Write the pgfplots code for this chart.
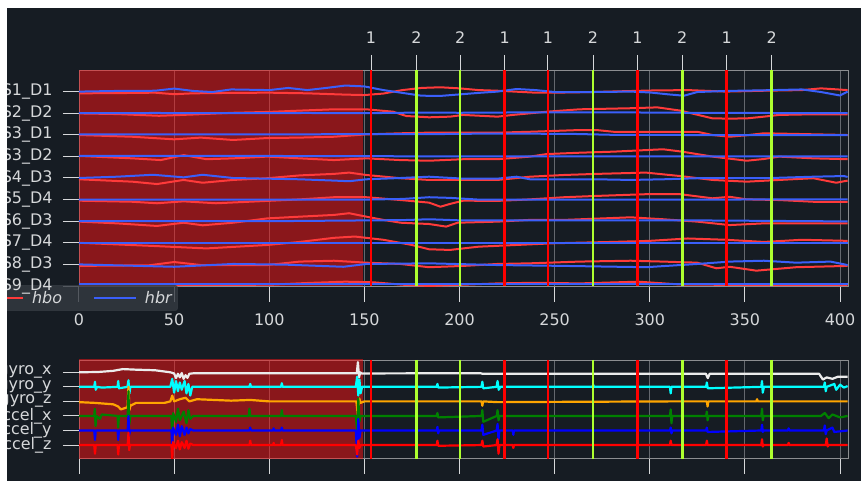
\documentclass[border=0pt]{standalone}
\usepackage{pgfplots}
\pgfplotsset{compat=1.18}
\usepackage{fontspec}
\setmainfont{DejaVu Sans}

\definecolor{bgdark}{RGB}{22,28,35}
\definecolor{fgtext}{RGB}{214,216,218}
\definecolor{framegrey}{RGB}{140,142,145}
\definecolor{gridgrey}{RGB}{100,104,110}
\definecolor{hbo}{RGB}{255,58,58}
\definecolor{hbr}{RGB}{58,95,250}
\definecolor{badspan}{RGB}{255,20,20}
\definecolor{evone}{RGB}{255,0,0}
\definecolor{evtwo}{RGB}{173,255,47}
\definecolor{legfill}{RGB}{52,58,66}
\definecolor{gyx}{RGB}{236,236,236}
\definecolor{gyy}{RGB}{0,255,255}
\definecolor{gyz}{RGB}{255,165,0}
\definecolor{acx}{RGB}{0,128,0}
\definecolor{acy}{RGB}{0,0,255}
\definecolor{acz}{RGB}{255,0,0}

\pgfplotsset{
  browser/.style={
    scale only axis, width=769bp,
    xmin=0, xmax=404.2,
    axis line style={framegrey, line width=0.8bp},
    tick style={fgtext, line width=1bp},
    major tick length=16bp,
    tick align=outside,
    ticklabel style={text=fgtext, font=\fontsize{16}{16}\selectfont},
    xticklabel style={yshift=-8.5bp},
    yticklabel style={xshift=-8bp},
    /pgf/number format/assume math mode=true,
    y dir=reverse,
    xtick={0,50,...,400},
    xtick pos=bottom, ytick pos=left,
    xmajorgrids, major grid style={gridgrey, line width=0.8bp},
  },
  trace/.style={line width=2bp, line join=round, forget plot},
  sensor/.style={line width=2.2bp, line join=round, forget plot},
}

\begin{document}
\begin{tikzpicture}
\fill[white] (0,0) rectangle (861bp,481bp);
\begin{scope}
\clip (7bp,0) rectangle (861bp,473bp);
\fill[bgdark] (7bp,0) rectangle (861bp,473bp);

% ---------------- fNIRS channels ----------------
\begin{axis}[browser, at={(79bp,195bp)}, anchor=south west, height=216bp,
  ymin=0, ymax=10, ytick={1,...,10}, yticklabels={},
  legend columns=2,
  legend image code/.code={\draw[#1] (0bp,0bp) -- (35bp,0bp); \path (0bp,0bp) -- (42bp,0bp);},
  legend style={at={(axis description cs:0.1287,0.0046)}, anchor=north east,
    fill=legfill, fill opacity=0.8, text opacity=1, draw=legfill,
    rounded corners=3bp, text=fgtext,
    font=\fontsize{16}{16}\selectfont\itshape,
    inner xsep=4bp, inner ysep=4bp,
    /tikz/every even column/.append style={column sep=29bp}},
]
% bad segment
\addplot[draw=none, fill=badspan, fill opacity=0.5, forget plot]
  coordinates {(0,0) (149.3,0) (149.3,10) (0,10)} -- cycle;

\addlegendimage{hbo, line width=2bp}
\addlegendentry{\hspace{6bp}hbo}
\addlegendimage{hbr, line width=2bp}
\addlegendentry{\hspace{6bp}hbr}

% S1_D1
\addplot[trace, hbo] coordinates {(0,1.08) (20,1.07) (40,1.05) (50,1.12) (60,1.08) (80,1.06) (100,1.05) (120,1.08) (140,1.14) (150,1.16) (160,1.09) (170,0.93) (180,0.83) (190,0.80) (200,0.85) (210,0.93) (220,0.96) (240,1.05) (250,1.05) (270,1.02) (300,0.95) (320,0.93) (340,1.00) (360,0.96) (380,0.93) (390,0.85) (404,0.93)};
\addplot[trace, hbr] coordinates {(0,1.00) (20,0.97) (40,0.96) (50,0.86) (60,0.97) (70,1.02) (80,0.90) (100,0.93) (110,0.83) (120,0.93) (130,0.83) (140,0.72) (150,0.76) (160,0.93) (170,1.06) (180,1.19) (190,1.20) (200,1.13) (210,1.06) (220,1.00) (230,0.88) (240,0.93) (250,1.02) (270,1.02) (290,1.00) (300,1.04) (310,1.13) (318,1.19) (325,1.02) (340,0.97) (360,0.94) (380,0.90) (390,1.02) (400,1.18) (404,1.00)};
% S2_D2
\addplot[trace, hbo] coordinates {(0,2.01) (20,2.04) (42,2.12) (60,2.06) (81,1.98) (100,1.94) (116,1.88) (134,1.82) (151,1.82) (165,1.93) (172,2.13) (184,2.19) (195,2.16) (202,2.08) (220,2.16) (228,2.08) (246,1.93) (263,1.82) (290,1.77) (304,1.73) (316,1.88) (333,2.24) (342,2.25) (351,2.24) (360,2.16) (368,2.08) (386,2.05) (404,2.05)};
\addplot[trace, hbr] coordinates {(0,2.00) (40,1.99) (80,2.00) (120,1.99) (150,2.00) (180,1.97) (200,1.98) (240,1.96) (280,1.96) (320,1.98) (360,1.99) (404,2.00)};
% S3_D1
\addplot[trace, hbo] coordinates {(0,3.01) (28,3.09) (50,3.21) (64,3.13) (81,3.24) (99,3.15) (116,3.13) (134,3.09) (151,2.98) (169,2.93) (184,2.90) (220,2.90) (237,2.86) (263,2.78) (272,2.78) (281,2.86) (307,2.86) (325,2.86) (333,3.01) (342,3.09) (351,3.02) (360,2.93) (377,2.96) (404,3.01)};
\addplot[trace, hbr] coordinates {(0,2.98) (100,2.98) (150,2.97) (184,2.97) (220,2.94) (260,2.96) (280,3.00) (320,3.01) (404,3.01)};
% S3_D2
\addplot[trace, hbo] coordinates {(0,3.98) (28,4.09) (43,4.17) (55,3.94) (67,4.13) (81,4.09) (99,4.01) (116,4.09) (134,4.17) (151,4.09) (169,4.17) (184,4.20) (202,4.13) (220,4.13) (237,4.01) (246,3.89) (263,3.83) (281,3.78) (307,3.67) (317,3.78) (333,4.01) (351,4.20) (360,4.12) (368,4.01) (386,4.09) (404,4.13)};
\addplot[trace, hbr] coordinates {(0,3.98) (100,3.98) (150,3.99) (200,4.00) (260,4.00) (300,4.00) (360,4.00) (404,4.00)};
% S4_D3
\addplot[trace, hbo] coordinates {(0,5.06) (28,5.17) (41,5.28) (55,5.09) (65,5.22) (81,5.09) (99,5.01) (116,4.88) (134,4.81) (142,4.75) (151,4.86) (169,5.01) (184,5.09) (220,5.09) (237,4.94) (255,4.86) (272,4.81) (298,4.75) (316,4.91) (333,5.09) (351,5.17) (368,5.09) (386,5.01) (398,5.22) (404,5.12)};
\addplot[trace, hbr] coordinates {(0,5.00) (20,4.94) (39,4.85) (55,4.97) (65,4.85) (81,5.00) (116,5.06) (134,5.12) (142,5.15) (151,5.06) (169,5.00) (184,4.94) (202,5.03) (220,5.03) (230,4.94) (237,5.06) (272,5.06) (290,5.09) (307,5.06) (325,5.01) (360,5.01) (386,4.94) (402,4.91) (404,4.95)};
% S5_D4
\addplot[trace, hbo] coordinates {(0,6.05) (28,6.10) (41,6.17) (55,6.08) (72,6.17) (99,6.06) (116,5.99) (134,5.89) (151,5.89) (169,6.02) (184,6.14) (190,6.33) (195,6.20) (202,6.05) (220,6.06) (237,5.99) (255,5.89) (272,5.83) (298,5.75) (316,5.75) (333,5.94) (342,5.87) (351,5.99) (368,6.02) (386,6.10) (404,6.11)};
\addplot[trace, hbr] coordinates {(0,6.00) (150,6.00) (170,5.97) (184,5.89) (195,5.92) (210,6.00) (300,6.00) (404,5.99)};
% S6_D3
\addplot[trace, hbo] coordinates {(0,7.02) (20,7.10) (41,7.22) (55,7.07) (65,7.19) (81,7.07) (99,6.87) (116,6.79) (134,6.71) (142,6.63) (151,6.79) (160,6.94) (169,7.07) (184,7.13) (193,7.25) (199,7.07) (220,7.02) (237,6.94) (255,6.94) (290,6.82) (307,6.91) (325,7.02) (342,7.18) (360,7.10) (377,7.10) (404,7.10)};
\addplot[trace, hbr] coordinates {(0,7.00) (100,7.00) (170,6.95) (184,6.91) (200,6.96) (240,6.96) (320,6.96) (404,7.01)};
% S7_D4
\addplot[trace, hbo] coordinates {(0,8.00) (40,8.15) (67,8.26) (99,8.10) (116,7.96) (134,7.77) (145,7.71) (160,7.86) (175,8.10) (184,8.30) (195,8.33) (210,8.18) (230,8.10) (250,8.02) (280,7.96) (300,7.91) (320,7.80) (340,7.86) (360,7.96) (380,7.86) (404,7.91)};
\addplot[trace, hbr] coordinates {(0,8.00) (100,8.00) (184,8.00) (300,8.00) (404,8.00)};
% S8_D3
\addplot[trace, hbo] coordinates {(0,9.07) (37,9.04) (50,8.89) (64,9.03) (99,9.03) (116,8.87) (134,8.83) (151,8.92) (169,8.98) (184,9.13) (202,9.07) (220,8.98) (237,8.95) (263,8.87) (290,8.83) (307,8.87) (325,8.92) (335,9.18) (342,9.11) (356,9.29) (377,9.13) (404,9.07)};
\addplot[trace, hbr] coordinates {(0,9.00) (50,9.11) (81,8.98) (108,9.01) (139,9.11) (151,8.98) (184,8.95) (220,9.03) (255,9.07) (298,9.13) (325,8.98) (342,8.87) (360,8.83) (377,8.92) (395,8.87) (404,9.03)};
% S9_D4
\addplot[trace, hbo] coordinates {(0,9.97) (100,9.94) (120,9.86) (140,9.80) (155,9.83) (170,9.94) (184,10.00) (220,9.88) (240,9.85) (263,9.88) (294,9.80) (316,9.93) (360,9.96) (404,9.96)};
\addplot[trace, hbr] coordinates {(0,9.93) (100,9.93) (200,9.93) (300,9.93) (404,9.93)};

% annotations
\addplot[ycomb, evone, line width=2.7bp, forget plot] coordinates {(153.5,10) (223.8,10) (246.5,10) (293.5,10) (340.4,10)};
\addplot[ycomb, evtwo, line width=2.5bp, forget plot] coordinates {(177.3,10) (200.3,10) (270.2,10) (317.1,10) (364.1,10)};
\end{axis}

% annotation descriptions along the top, channel names on the left
\begin{axis}[scale only axis, width=769bp, height=216bp,
  at={(79bp,195bp)}, anchor=south west,
  xmin=0, xmax=404.2, ymin=0, ymax=10, y dir=reverse,
  axis x line*=top, axis y line*=left,
  axis line style={draw=none},
  xtick={153.5,177.3,200.3,223.8,246.5,270.2,293.5,317.1,340.4,364.1},
  xticklabels={1,2,2,1,1,2,1,2,1,2},
  ytick={1,...,10},
  yticklabels={S1\_D1,S2\_D2,S3\_D1,S3\_D2,S4\_D3,S5\_D4,S6\_D3,S7\_D4,S8\_D3,S9\_D4},
  tick align=outside, major tick length=15bp,
  xtick style={fgtext, line width=1bp},
  ytick style={draw=none},
  xticklabel style={text=fgtext, font=\fontsize{16}{16}\selectfont, yshift=8bp},
  yticklabel style={text=fgtext, font=\fontsize{16}{16}\selectfont, xshift=-8bp},
  /pgf/number format/assume math mode=true]
\end{axis}

% ---------------- motion sensors ----------------
\begin{axis}[browser, at={(79bp,23bp)}, anchor=south west, height=98bp,
  ymin=0.155, ymax=6.89, ytick={1,...,6},
  yticklabels={gyro\_x,gyro\_y,gyro\_z,accel\_x,accel\_y,accel\_z},
  xticklabels={}]
\addplot[draw=none, fill=badspan, fill opacity=0.5, forget plot]
  coordinates {(0,0) (149.3,0) (149.3,7) (0,7)} -- cycle;

\addplot[sensor, gyx] coordinates {(0,1.0) (10,0.98) (18,0.9) (23,0.78) (30,0.82) (40,0.86) (48,1.0) (50,1.08) (51,1.4) (52,1.1) (53,1.35) (54,1.05) (55,1.45) (56,1.2) (57,1.38) (58,1.1) (60,1.07) (100,1.06) (146,1.06) (146.6,0.3) (147.2,1.35) (147.8,1.0) (148.5,1.08) (211,1.06) (212,1.1) (329.5,1.1) (330.5,1.4) (331.5,1.1) (389,1.1) (391,1.5) (393,1.35) (396,1.45) (399,1.3) (404,1.3)};
\addplot[sensor, gyy] coordinates {(0,2) (8,2.0) (8.4,1.65) (8.8,2.2) (9.5,2.0) (12,2.05) (20.3,2.0) (20.6,1.6) (21,2.1) (25.5,2.0) (26,1.55) (26.5,2.45) (27,2.0) (48,2.0) (49,1.45) (50,2.4) (51,1.6) (52,2.3) (53,1.7) (54,2.2) (55.5,1.6) (56.5,2.45) (57.5,1.8) (58.5,2.6) (59.5,2.0) (89.6,2.0) (90,1.8) (90.4,2.0) (106.2,2.0) (106.6,1.75) (107,2.0) (145.5,2.0) (146.2,1.3) (146.8,2.6) (147.4,1.5) (148,2.45) (148.8,2.0) (188,2.0) (188.4,1.8) (188.8,2.05) (211.5,2.0) (212,1.65) (212.5,2.1) (219.5,2.0) (220,1.6) (220.6,2.2) (221.5,2.0) (270,2.0) (270.3,1.85) (270.6,2.0) (310.6,2.0) (311,2.45) (311.4,2.0) (329.6,2.0) (330,1.7) (330.5,2.1) (358.6,2.0) (359,1.6) (359.4,2.4) (360,2.0) (391.5,2.0) (392,1.7) (392.5,2.3) (393,2.0) (397,1.8) (398,2.2) (400,1.85) (402,2.05) (404,1.95)};
\addplot[sensor, gyz] coordinates {(0,3.05) (8,3.1) (18,3.2) (20.6,3.35) (22,3.55) (25.5,3.4) (26,2.0) (26.5,3.6) (27,3.3) (30,3.1) (45,3.1) (48,3.0) (49,2.6) (50,3.0) (53,2.85) (56,2.75) (58,3.0) (62,2.85) (80,2.95) (90,2.9) (100,3.0) (120,3.0) (145.8,3.0) (146.5,3.9) (147.3,2.8) (148,3.1) (150,3.0) (211.6,3.0) (212,3.3) (212.4,3.0) (220,3.05) (310,3.0) (330,3.0) (330.4,3.35) (330.8,3.0) (356,3.0) (356.4,2.85) (356.8,3.0) (404,3.0)};
\addplot[sensor, acx] coordinates {(0,4) (8,4.0) (8.3,3.5) (8.7,4.7) (9.2,4.0) (11,4.2) (12,3.9) (20.3,4.0) (20.6,4.8) (21,4.0) (25.6,4.0) (26,2.3) (26.4,4.6) (27,4.0) (48.5,4.0) (49,5.2) (49.5,3.8) (51,4.4) (52,3.5) (53,4.3) (55,3.7) (56.5,4.5) (57.5,3.6) (58.5,4.2) (60,4.0) (89.2,4.0) (89.6,3.5) (90,4.0) (106.2,4.0) (106.6,3.6) (107,4.0) (145.5,4.0) (146.2,5.0) (146.8,2.8) (147.4,4.4) (148,4.0) (188,4.0) (188.4,3.8) (188.8,4.1) (211.6,4.0) (212,3.6) (212.5,4.4) (219.6,4.0) (220,3.6) (220.5,4.3) (221,4.0) (310.6,4.0) (311,3.55) (311.4,4.5) (311.8,4.0) (329.6,4.0) (330,3.7) (330.4,4.3) (330.8,4.0) (358.6,4.0) (359,3.5) (359.4,4.3) (359.8,4.0) (390,4.0) (392,3.8) (394,4.15) (396,3.9) (400,4.1) (404,4.0)};
\addplot[sensor, acy] coordinates {(0,5) (8,5.0) (8.4,5.65) (8.8,5.0) (20.3,5.0) (20.6,5.65) (21,5.0) (25.6,5.0) (26,4.0) (26.4,5.3) (26.8,5.0) (48.6,5.0) (49,6.1) (49.4,4.8) (51,5.3) (52,4.6) (53,5.4) (54,4.7) (55.5,5.3) (56.5,4.8) (57.5,5.2) (58.5,4.9) (60,5.0) (89.6,5.0) (90,4.8) (90.4,5.0) (102,5.0) (102.3,4.85) (102.6,5.0) (106.2,5.0) (106.6,4.8) (107,5.0) (145.5,5.0) (146.2,6.8) (146.8,4.2) (147.4,5.5) (148,5.0) (188,5.0) (188.4,4.75) (188.8,5.2) (189.2,5.0) (211.5,5.0) (212,4.6) (212.5,5.3) (219.5,5.0) (220,4.55) (220.5,5.6) (221,5.0) (228,5.0) (228.3,5.3) (228.6,5.0) (310.6,5.0) (311,4.8) (311.4,5.2) (311.8,5.0) (329.6,5.0) (330,4.8) (330.4,5.1) (358.6,5.0) (359,4.6) (359.4,5.1) (359.8,5.0) (372.6,5.0) (373,4.85) (373.4,5.0) (391.5,5.0) (392,4.65) (392.5,5.25) (393,5.0) (396,4.8) (397,5.1) (404,5.0)};
\addplot[sensor, acz] coordinates {(0,6) (8,6.0) (8.4,6.6) (8.8,6.0) (20.3,6.0) (20.6,6.65) (21,6.0) (25.6,6.0) (26,5.15) (26.4,6.35) (26.8,6.0) (48.6,6.0) (49,7.0) (49.4,5.8) (51,6.2) (52,5.7) (53,6.3) (54,5.8) (55.5,6.2) (56.5,5.7) (57.5,6.25) (58.5,5.9) (60,6.0) (89.6,6.0) (90,5.7) (90.4,6.0) (102,6.0) (102.3,5.85) (102.6,6.0) (106.2,6.0) (106.6,5.65) (107,6.0) (145.5,6.0) (146.2,6.65) (146.8,5.7) (147.4,6.2) (148,6.0) (188,6.0) (188.4,5.7) (188.8,6.05) (211.5,6.0) (212,5.7) (212.5,6.1) (219.5,6.0) (220,5.6) (220.5,6.6) (221,6.0) (228,6.0) (228.3,6.2) (228.6,6.0) (310.6,6.0) (311,5.7) (311.4,6.0) (329.6,6.0) (330,5.7) (330.4,6.0) (358.6,6.0) (359,5.6) (359.4,6.1) (359.8,6.0) (372.6,6.0) (373,5.85) (373.4,6.0) (392.5,6.0) (393,5.55) (393.5,6.1) (394,6.0) (404,6.0)};

\addplot[ycomb, evone, line width=2.7bp, forget plot] coordinates {(153.5,7) (223.8,7) (246.5,7) (293.5,7) (340.4,7)};
\addplot[ycomb, evtwo, line width=2.5bp, forget plot] coordinates {(177.3,7) (200.3,7) (270.2,7) (317.1,7) (364.1,7)};
\end{axis}
\end{scope}
\pgfresetboundingbox
\path[use as bounding box] (0,0) rectangle (861bp,481bp);
\end{tikzpicture}
\end{document}
